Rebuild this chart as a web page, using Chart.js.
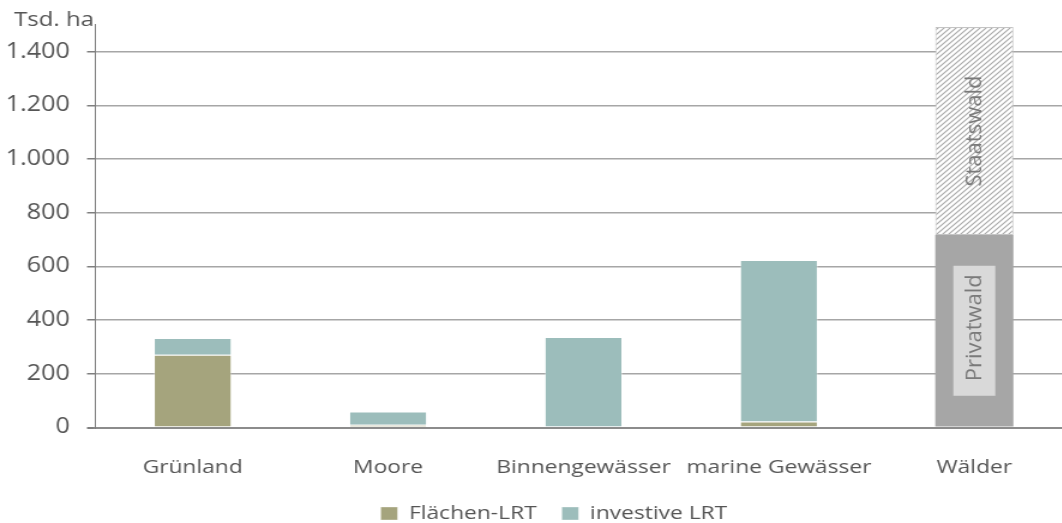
<!DOCTYPE html>
<html><head><meta charset="utf-8">
<script src="https://cdn.jsdelivr.net/npm/chart.js@4.4.1/dist/chart.umd.min.js"></script>
<style>
html,body{margin:0;padding:0;background:#fff;overflow:hidden}
#wrap{width:1062px;height:523px;overflow:hidden;position:relative;background:#fff}
#c{display:block}
</style></head><body>
<div id="wrap"><canvas id="c" width="917" height="533" style="width:1100px;height:533px"></canvas></div>
<script>
// ---- data ----
const categories = ['Grünland', 'Moore', 'Binnengewässer', 'marine Gewässer', 'Wälder'];
const flaechenLRT = [271, 10, 0, 22, null];
const investiveLRT = [62, 50, 337, 602, null];
const privatwald = [null, null, null, null, 717];
const staatswald = [null, null, null, null, 775];
const seriesNames = ['Flächen-LRT', 'investive LRT', 'Privatwald', 'Staatswald'];
const yTickValues = [0, 200, 400, 600, 800, 1000, 1200, 1400];
const yTickLabels = ['0', '200', '400', '600', '800', '1.000', '1.200', '1.400'];
const unitLabel = 'Tsd. ha';

// ---- horizontal stretch of the canvas ----
const S = 1100 / 917;
const px = v => v / S;
const FAMILY = '"Open Sans", sans-serif';
const Y_FONT_SIZE = 21;

// hatch pattern for Staatswald
const pc = document.createElement('canvas');
pc.width = 5; pc.height = 5;
const g = pc.getContext('2d');
g.fillStyle = '#ffffff'; g.fillRect(0, 0, 5, 5);
g.strokeStyle = '#a8a8a8'; g.lineWidth = 1.1;
g.beginPath();
g.moveTo(-1, 6); g.lineTo(6, -1);
g.moveTo(-3.5, 3.5); g.lineTo(3.5, -3.5);
g.moveTo(1.5, 8.5); g.lineTo(8.5, 1.5);
g.stroke();
const ctxMain = document.getElementById('c').getContext('2d');
const hatch = ctxMain.createPattern(pc, 'repeat');

// widest y label (for right-aligned, mirrored labels left of the axis)
ctxMain.save();
ctxMain.font = Y_FONT_SIZE + 'px ' + FAMILY;
const widestY = Math.max(...yTickLabels.map(t => ctxMain.measureText(t).width));
ctxMain.restore();

const annot = {
  id: 'annot',
  afterDatasetsDraw(chart) {
    const ctx = chart.ctx;
    [[2, true, 3], [3, false, 0]].forEach(([di, boxed, shift]) => {
      const el = chart.getDatasetMeta(di).data[4];
      if (!el) return;
      const cx = el.x, cy = (el.y + el.base) / 2;
      ctx.save();
      ctx.translate(cx, cy);
      ctx.scale(1 / S, 1);
      ctx.rotate(-Math.PI / 2);
      if (boxed) { ctx.fillStyle = '#d9d9d9'; ctx.fillRect(-65, -21, 130, 42); }
      ctx.font = '22px "Open Sans"';
      ctx.fillStyle = '#7a7a7a';
      ctx.textAlign = 'center';
      ctx.textBaseline = 'middle';
      ctx.fillText(seriesNames[di], shift, 1);
      ctx.restore();
    });
    ctx.save();
    ctx.font = '20px "Open Sans"';
    ctx.fillStyle = '#555555';
    ctx.textAlign = 'left';
    ctx.textBaseline = 'alphabetic';
    ctx.fillText(unitLabel, px(14), 26);
    ctx.restore();
  }
};

Chart.defaults.font.family = FAMILY;
Chart.defaults.color = '#555555';

const chartRight = px(1072);
const padRight = 917 - chartRight;
const legendCenter = px(554);
const padLeft = 2 * legendCenter - chartRight;
const yAxisWidth = px(95) - padLeft;
const yLabelPadding = px(70) - px(95) - widestY;

new Chart(ctxMain, {
  type: 'bar',
  data: {
    labels: categories,
    datasets: [
      { label: seriesNames[0], data: flaechenLRT, backgroundColor: '#a5a47d', borderColor: 'rgba(255,255,255,0.35)', borderWidth: 1 },
      { label: seriesNames[1], data: investiveLRT, backgroundColor: '#9cbdbb', borderColor: 'rgba(255,255,255,0.35)', borderWidth: 1 },
      { label: seriesNames[2], data: privatwald, backgroundColor: '#a6a6a6', borderWidth: 0 },
      { label: seriesNames[3], data: staatswald, backgroundColor: hatch, borderColor: '#c4c4c4', borderWidth: 1, borderSkipped: false }
    ]
  },
  options: {
    responsive: false,
    animation: false,
    events: [],
    layout: { padding: { left: padLeft, right: padRight, top: 24.9, bottom: 0 } },
    datasets: { bar: { barPercentage: 0.4, categoryPercentage: 1.0 } },
    scales: {
      x: {
        stacked: true,
        grid: { display: false },
        border: { display: true, color: '#8c8c8c', width: 2 },
        ticks: { autoSkip: false, maxRotation: 0, padding: 21, color: '#555555', font: { size: 19 } },
        afterFit: s => { s.height = 55.5; }
      },
      y: {
        stacked: true,
        min: 0,
        max: 1500,
        bounds: 'data',
        ticks: {
          stepSize: 200,
          includeBounds: false,
          mirror: true,
          crossAlign: 'far',
          padding: yLabelPadding,
          color: '#555555',
          font: { size: Y_FONT_SIZE },
          callback: (v) => { const i = yTickValues.indexOf(v); return i >= 0 ? yTickLabels[i] : ''; }
        },
        afterBuildTicks: s => { s.ticks = yTickValues.map(v => ({ value: v })); },
        grid: {
          color: c => (c.tick && c.tick.value === 0) ? '#8c8c8c' : '#a6a6a6',
          lineWidth: c => (c.tick && c.tick.value === 0) ? 2 : 1.5,
          tickColor: '#7f7f7f',
          tickLength: px(8),
          drawTicks: true
        },
        border: { display: true, color: '#7f7f7f', width: 1 },
        afterFit: s => { s.width = yAxisWidth; }
      }
    },
    plugins: {
      legend: {
        position: 'bottom',
        labels: {
          filter: item => item.datasetIndex < 2,
          boxWidth: 14,
          boxHeight: 13,
          padding: 21,
          color: '#555555',
          font: { size: 19 }
        }
      },
      tooltip: { enabled: false },
      title: { display: false }
    }
  },
  plugins: [annot]
});
</script>
</body></html>
